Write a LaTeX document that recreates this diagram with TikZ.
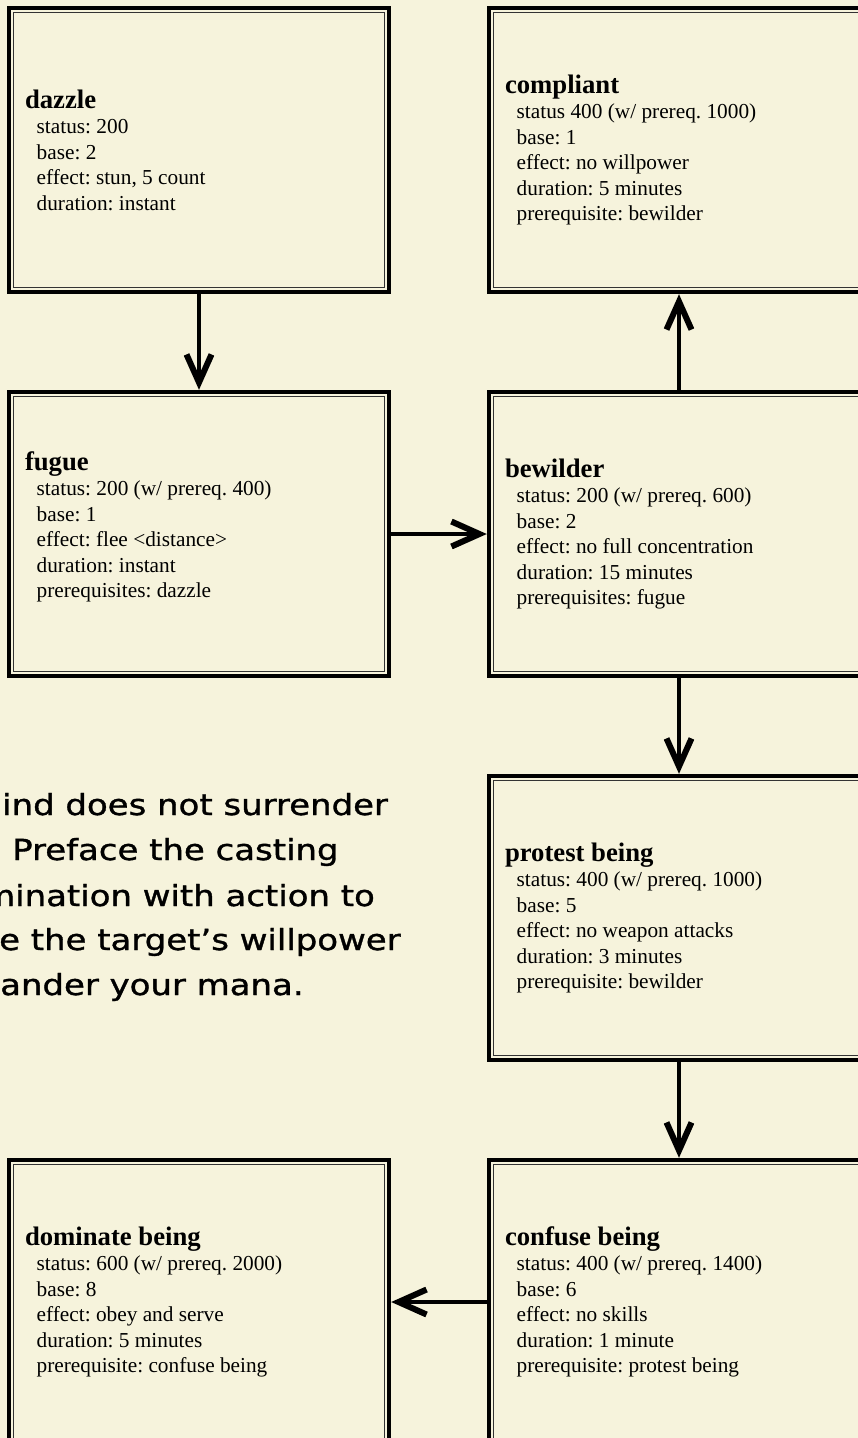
\documentclass[tikz,border=0pt]{standalone}
\usepackage{fontspec}
\setmainfont{Liberation Serif}
\newfontfamily\handfont[FakeStretch=1.17,FakeBold=1.2]{DejaVu Sans}
\usetikzlibrary{arrows.meta}
\definecolor{parchment}{HTML}{F6F3DC}
\frenchspacing

\tikzset{
  skillbox/.style={draw=black, line width=4.4pt, minimum width=380pt,
    minimum height=284pt, inner sep=0pt},
  innerframe/.style={draw=black!80, line width=1.2pt},
  skilltext/.style={align=left, inner sep=0pt, anchor=west,
    font=\fontsize{21.3}{25.5}\selectfont},
  flow/.style={line width=4pt,
    -{Straight Barb[length=28pt,width=25pt,line width=6pt]}},
  handtext/.style={anchor=base west, inner sep=0pt,
    font=\handfont\fontsize{29}{36}\selectfont}
}

% one spell box: [text shift], name, centre x, centre y, title, body lines
\newcommand{\spellbox}[6][0]{%
  \node[skillbox] (#2) at (#3,#4) {};
  \draw[innerframe] ([shift={(7,7)}]#2.north west)
    rectangle ([shift={(-7,-7)}]#2.south east);
  \node[skilltext] (#2-text) at ([shift={(18,#1)}]#2.west)
    {{\fontsize{26.7}{26}\selectfont\bfseries #5}\\#6};
}
\newcommand{\ind}{\hspace*{11.7pt}}

\begin{document}
\begin{tikzpicture}[x=1pt,y=-1pt]
  \fill[parchment] (0,0) rectangle (858,1438);
  \useasboundingbox (0,0) rectangle (858,1438);
  \clip (0,0) rectangle (858,1438);

  \spellbox{dazzle}{199}{150}{dazzle}{%
    \ind status: 200\\\ind base: 2\\\ind effect: stun, 5 count\\%
    \ind duration: instant}
  \spellbox{compliant}{679}{150}{compliant}{%
    \ind status 400 (w/ prereq. 1000)\\\ind base: 1\\%
    \ind effect: no willpower\\\ind duration: 5 minutes\\%
    \ind prerequisite: bewilder}
  \spellbox[-7]{fugue}{199}{534}{fugue}{%
    \ind status: 200 (w/ prereq. 400)\\\ind base: 1\\%
    \ind effect: flee <distance>\\\ind duration: instant\\%
    \ind prerequisites: dazzle}
  \spellbox{bewilder}{679}{534}{bewilder}{%
    \ind status: 200 (w/ prereq. 600)\\\ind base: 2\\%
    \ind effect: no full concentration\\\ind duration: 15 minutes\\%
    \ind prerequisites: fugue}
  \spellbox{protest}{679}{918}{protest being}{%
    \ind status: 400 (w/ prereq. 1000)\\\ind base: 5\\%
    \ind effect: no weapon attacks\\\ind duration: 3 minutes\\%
    \ind prerequisite: bewilder}
  \spellbox{confuse}{679}{1302}{confuse being}{%
    \ind status: 400 (w/ prereq. 1400)\\\ind base: 6\\%
    \ind effect: no skills\\\ind duration: 1 minute\\%
    \ind prerequisite: protest being}
  \spellbox{dominate}{199}{1302}{dominate being}{%
    \ind status: 600 (w/ prereq. 2000)\\\ind base: 8\\%
    \ind effect: obey and serve\\\ind duration: 5 minutes\\%
    \ind prerequisite: confuse being}

  % progression arrows
  \draw[flow] (dazzle.south) -- (fugue.north);
  \draw[flow] (fugue.east) -- (bewilder.west);
  \draw[flow] (bewilder.north) -- (compliant.south);
  \draw[flow] (bewilder.south) -- (protest.north);
  \draw[flow] (protest.south) -- (confuse.north);
  \draw[flow] (confuse.west) -- (dominate.east);

  % handwritten note
  \node[handtext] (note1) at (2,815) {ind does not surrender};
  \node[handtext] (note2) at (12,860) {Preface the casting};
  \node[handtext] (note3) at (-18,906) {mination with action to};
  \node[handtext] (note4) at (-1,950) {e the target’s willpower};
  \node[handtext] (note5) at (0,995) {ander your mana.};
\end{tikzpicture}
\end{document}
